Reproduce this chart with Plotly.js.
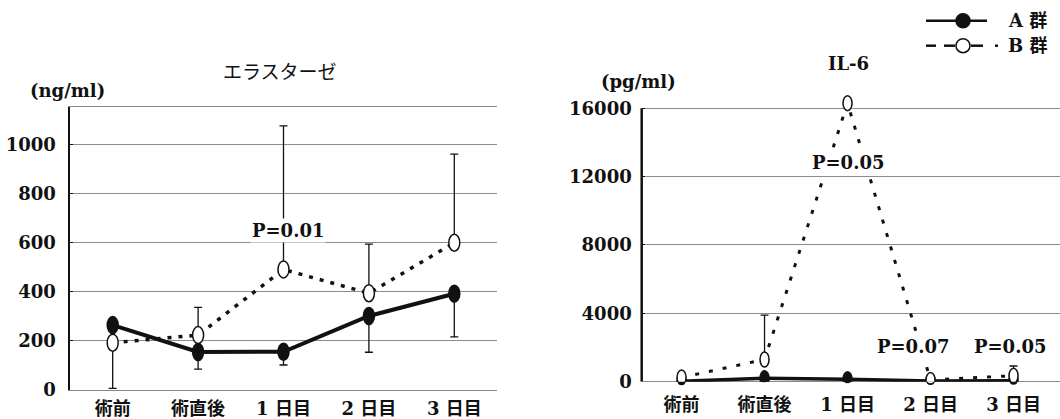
<!DOCTYPE html>
<html>
<head>
<meta charset="utf-8">
<script src="https://cdn.plot.ly/plotly-3.0.1.min.js"></script>
<style>
html,body{margin:0;padding:0;background:#fff;}
#chart{width:1060px;height:419px;}
</style>
</head>
<body>
<div id="chart"></div>
<script>
// ---- data ----
const categories = ['術前', '術直後', '1 日目', '2 日目', '3 日目'];

const elastaseA = [265, 155, 156, 302, 393];
const elastaseB = [193, 224, 492, 395, 601];
const elastaseAErrMinus = [258, 70, 54, 148, 176];
const elastaseBErrPlus = [0, 113, 586, 200, 362];

const il6A = [30, 200, 150, 40, 60];
const il6B = [250, 1300, 16300, 100, 350];
const il6AErrMinus = [0, 0, 0, 0, 0];
const il6BErrPlus = [0, 2600, 0, 0, 570];

const elastaseTicks = [0, 200, 400, 600, 800, 1000];
const il6Ticks = [0, 4000, 8000, 12000, 16000];

const elastasePLabels = ['P=0.01'];
const elastasePX = [2.05];
const elastasePY = [653];

const il6PLabels = ['P=0.05', 'P=0.07', 'P=0.05'];
const il6PX = [2.0, 2.79, 3.96];
const il6PY = [12800, 2050, 2050];

const seriesNames = ['A 群', 'B 群'];

// ---- styling ----
const SERIF = "DejaVu Serif, Noto Sans CJK JP";
const W = 1060, H = 419;
const px = v => v / W;
const py = v => (H - v) / H;
const orNaN = v => (v > 0 ? v : NaN);

function errMinus(arr) {
  return {type: 'data', symmetric: false, array: arr.map(() => NaN), arrayminus: arr.map(orNaN),
          color: '#111', thickness: 1.3, width: 4};
}
function errPlus(arr) {
  return {type: 'data', symmetric: false, array: arr.map(orNaN), arrayminus: arr.map(() => NaN),
          color: '#111', thickness: 1.3, width: 4};
}

const traces = [
  {x: categories, y: elastaseA, xaxis: 'x', yaxis: 'y', mode: 'lines+markers', name: seriesNames[0],
   line: {color: '#111', width: 4}, marker: {size: 9, color: '#111'},
   error_y: errMinus(elastaseAErrMinus), cliponaxis: false, showlegend: false},
  {x: categories, y: elastaseB, xaxis: 'x', yaxis: 'y', mode: 'lines+markers', name: seriesNames[1],
   line: {color: '#111', width: 3.5, dash: '4px,7px'}, marker: {size: 9, color: '#fff', line: {color: '#111', width: 1.5}},
   error_y: errPlus(elastaseBErrPlus), cliponaxis: false, showlegend: false},
  {x: categories, y: il6A, xaxis: 'x2', yaxis: 'y2', mode: 'lines+markers', name: seriesNames[0],
   line: {color: '#111', width: 3.5}, marker: {size: 8, color: '#111'},
   error_y: errMinus(il6AErrMinus), cliponaxis: false, showlegend: false},
  {x: categories, y: il6B, xaxis: 'x2', yaxis: 'y2', mode: 'lines+markers', name: seriesNames[1],
   line: {color: '#111', width: 3, dash: '4px,10px'}, marker: {size: 8, color: '#fff', line: {color: '#111', width: 1.5}},
   error_y: errPlus(il6BErrPlus), cliponaxis: false, showlegend: false}
];

function ellipses(ys, xref, yref, w, h, fill) {
  return ys.map((v, i) => ({
    type: 'circle', xref: xref, yref: yref, xsizemode: 'pixel', ysizemode: 'pixel',
    xanchor: categories[i], yanchor: v, x0: -w / 2, x1: w / 2, y0: -h / 2, y1: h / 2,
    fillcolor: fill, line: {color: '#111', width: 1.5}, layer: 'above'
  }));
}

const shapes = []
  .concat(ellipses(elastaseA, 'x', 'y', 11, 17, '#111'))
  .concat(ellipses(elastaseB, 'x', 'y', 11, 17, '#fff'))
  .concat(ellipses(il6A, 'x2', 'y2', 9, 15, '#111'))
  .concat(ellipses(il6B, 'x2', 'y2', 9, 15, '#fff'));

// IL-6 y-axis line, only up to the last tick
shapes.push({type: 'line', xref: 'x2 domain', yref: 'y2', x0: 0, x1: 0,
  y0: il6Ticks[0], y1: il6Ticks[il6Ticks.length - 1], line: {color: '#111', width: 2.5}});

// legend (drawn manually)
const lyA = py(20.7), lyB = py(45.7);
shapes.push({type: 'line', xref: 'paper', yref: 'paper', x0: px(926), x1: px(987), y0: lyA, y1: lyA, line: {color: '#111', width: 2.5}});
shapes.push({type: 'circle', xref: 'paper', yref: 'paper', xsizemode: 'pixel', ysizemode: 'pixel',
  xanchor: px(963), yanchor: lyA, x0: -7, x1: 7, y0: -7, y1: 7, fillcolor: '#111', line: {color: '#111', width: 1.5}});
[[926, 936], [944, 955], [971, 983], [995, 998]].forEach(s => {
  shapes.push({type: 'line', xref: 'paper', yref: 'paper', x0: px(s[0]), x1: px(s[1]), y0: lyB, y1: lyB, line: {color: '#111', width: 2.5}});
});
shapes.push({type: 'circle', xref: 'paper', yref: 'paper', xsizemode: 'pixel', ysizemode: 'pixel',
  xanchor: px(963), yanchor: lyB, x0: -7, x1: 7, y0: -7, y1: 7, fillcolor: '#fff', line: {color: '#111', width: 1.5}});

const annFont = {family: SERIF, size: 18, color: '#111', weight: 'bold'};
const annotations = [];
function ann(o) {
  annotations.push(Object.assign({showarrow: false, xanchor: 'center', yanchor: 'middle'}, o));
}
elastasePLabels.forEach((t, i) => ann({
  text: t, x: elastasePX[i], y: elastasePY[i], xref: 'x', yref: 'y',
  font: annFont, bgcolor: '#fff', borderpad: 1}));
il6PLabels.forEach((t, i) => ann({
  text: t, x: il6PX[i], y: il6PY[i], xref: 'x2', yref: 'y2',
  font: annFont, bgcolor: '#fff', borderpad: 1}));

// titles, units, legend text
ann({text: 'エラスターゼ', xref: 'paper', yref: 'paper', x: px(280), y: py(70),
  font: {family: 'Noto Sans CJK JP', size: 19, color: '#111'}});
ann({text: 'IL-6', xref: 'paper', yref: 'paper', x: px(848), y: py(63), font: annFont});
ann({text: '(ng/ml)', xref: 'paper', yref: 'paper', x: px(67), y: py(90), font: annFont});
ann({text: '(pg/ml)', xref: 'paper', yref: 'paper', x: px(638), y: py(82), font: annFont});
ann({text: seriesNames[0], xref: 'paper', yref: 'paper', x: px(1006), y: lyA, xanchor: 'left',
  font: {family: SERIF, size: 18, color: '#111', weight: 'bold'}});
ann({text: seriesNames[1], xref: 'paper', yref: 'paper', x: px(1006), y: lyB, xanchor: 'left',
  font: {family: SERIF, size: 18, color: '#111', weight: 'bold'}});

const tickFont = {family: SERIF, size: 18, color: '#111', weight: 'bold'};
const catFont = {family: SERIF, size: 18, color: '#111', weight: 'bold'};

const layout = {
  width: W, height: H,
  margin: {l: 0, r: 0, t: 0, b: 0},
  paper_bgcolor: '#fff', plot_bgcolor: '#fff',
  showlegend: false,
  xaxis: {domain: [px(70), px(497)], type: 'category', range: [-0.5, 4.5],
    showgrid: false, zeroline: false, showline: true, mirror: true, linecolor: '#888', linewidth: 1,
    ticks: '', tickfont: catFont, ticklabelstandoff: 2, anchor: 'y', fixedrange: true},
  yaxis: {domain: [py(390), py(106.5)], range: [0, 1157], tickvals: elastaseTicks,
    ticktext: elastaseTicks.map(String),
    showgrid: true, gridcolor: '#8c8c8c', gridwidth: 1, zeroline: false,
    showline: true, linecolor: '#111', linewidth: 2.5, ticks: 'inside', ticklen: 3, tickcolor: '#111',
    tickfont: tickFont, ticklabelstandoff: 8, anchor: 'x', fixedrange: true},
  xaxis2: {domain: [px(641.7), 1], type: 'category', range: [-0.48, 4.56],
    showgrid: false, zeroline: false, showline: false,
    ticks: '', tickfont: catFont, ticklabelstandoff: 10, anchor: 'y2', fixedrange: true},
  yaxis2: {domain: [py(381.7), py(94.6)], range: [0, 16800], tickvals: il6Ticks,
    ticktext: il6Ticks.map(String),
    showgrid: true, gridcolor: '#8c8c8c', gridwidth: 1, zeroline: true, zerolinecolor: '#8c8c8c', zerolinewidth: 1,
    showline: false, ticks: 'inside', ticklen: 3, tickcolor: '#111',
    tickfont: tickFont, ticklabelstandoff: 9, anchor: 'x2', fixedrange: true},
  shapes: shapes,
  annotations: annotations
};

Plotly.newPlot('chart', traces, layout, {staticPlot: true, displayModeBar: false});
</script>
</body>
</html>
